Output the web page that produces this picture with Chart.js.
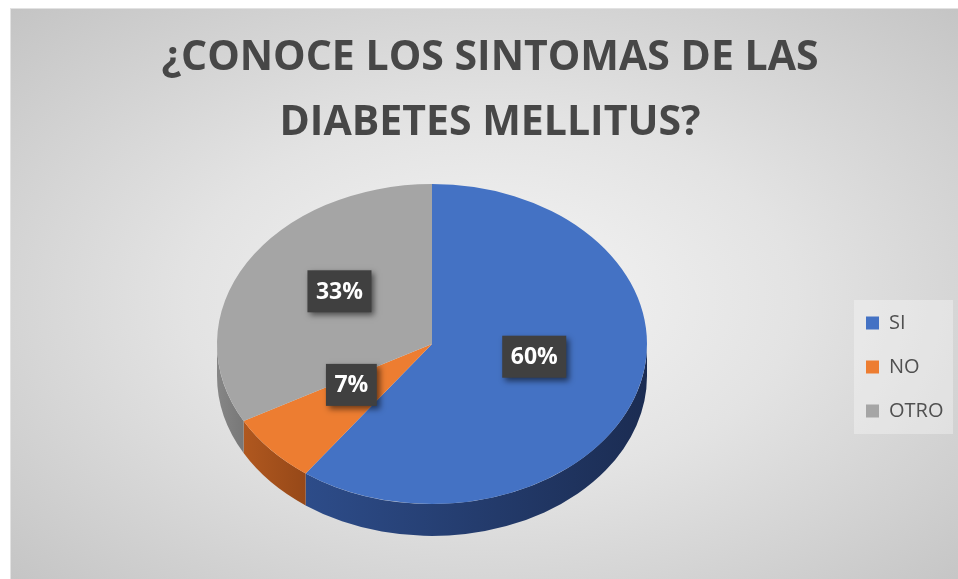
<!DOCTYPE html>
<html>
<head>
<meta charset="utf-8">
<script src="https://cdn.jsdelivr.net/npm/chart.js@4.4.0/dist/chart.umd.min.js"></script>
<style>
  html, body { margin: 0; padding: 0; background: #fff; overflow: hidden; }
  #frame {
    position: absolute; left: 10px; top: 8px; width: 960px; height: 580px;
    border-top: 1px solid #e2e2e2; border-left: 1px solid #e2e2e2;
    background: radial-gradient(ellipse at 50% 50%, #f5f5f5 0%, #e3e3e3 45%, #c4c4c4 100%);
  }
  #wrap { position: absolute; left: 0; top: 0; width: 958px; height: 579px; }
</style>
</head>
<body>
<div id="frame"></div>
<div id="wrap"><canvas id="pieChart"></canvas></div>
<script>
const categories = ['SI', 'NO', 'OTRO'];
const percentValues = [60, 7, 33];
const titleLines = ['¿CONOCE LOS SINTOMAS DE LAS', 'DIABETES MELLITUS?'];

const sliceColors = ['#4472C4', '#ED7D31', '#A5A5A5'];
const sideColors = [['#2d4c89', '#1b2c52'], ['#b0581f', '#964818'], ['#868686', '#777777']];

const FONT = '"Open Sans", "Noto Sans", sans-serif';
const PIE_CY = 344;   // centre of the top face on screen
const TILT = 0.744;   // vertical squash of the pie
const DEPTH = 32;     // thickness of the pie
const LEGEND_W = 116;

// draws the pie side, then squashes the top face
const pie3d = {
  id: 'pie3d',
  beforeLayout(chart) {
    const lg = chart.legend;
    if (lg && !lg._wfix) {
      const fit = lg.fit;
      lg.fit = function () { fit.call(this); this.width = LEGEND_W; };
      lg._wfix = true;
    }
  },
  beforeDraw(chart) {
    // lighter panel behind the legend
    const lg = chart.legend;
    const hb = lg.legendHitBoxes;
    if (!hb || !hb.length) return;
    const ctx = chart.ctx;
    const top = hb[0].top - 13;
    const bottom = hb[hb.length - 1].top + hb[hb.length - 1].height + 13;
    ctx.save();
    ctx.fillStyle = 'rgba(255,255,255,0.32)';
    ctx.fillRect(lg.left + 12, top, lg.right - 5 - (lg.left + 12), bottom - top);
    ctx.restore();
  },
  beforeDatasetsDraw(chart) {
    const ctx = chart.ctx;
    const arcs = chart.getDatasetMeta(0).data;
    if (!arcs.length) return;
    const cx = arcs[0].x, cy = arcs[0].y, r = arcs[0].outerRadius, ry = r * TILT;
    arcs.forEach((arc, i) => {
      const a = Math.max(arc.startAngle, 0);
      const b = Math.min(arc.endAngle, Math.PI);
      if (a >= b) return;
      const x0 = cx + r * Math.cos(b), x1 = cx + r * Math.cos(a);
      const g = ctx.createLinearGradient(x0, 0, x1 + 1, 0);
      g.addColorStop(0, sideColors[i][0]);
      g.addColorStop(1, sideColors[i][1]);
      ctx.beginPath();
      ctx.ellipse(cx, PIE_CY, r, ry, 0, a, b);
      ctx.ellipse(cx, PIE_CY + DEPTH, r, ry, 0, b, a, true);
      ctx.closePath();
      ctx.fillStyle = g;
      ctx.fill();
    });
    ctx.save();
    ctx.translate(0, PIE_CY);
    ctx.scale(1, TILT);
    ctx.translate(0, -cy);
  },
  afterDatasetsDraw(chart) {
    chart.ctx.restore();
  }
};

// dark percentage boxes
const sliceLabels = {
  id: 'sliceLabels',
  afterDatasetsDraw(chart) {
    const ctx = chart.ctx;
    const arcs = chart.getDatasetMeta(0).data;
    const total = percentValues.reduce((s, v) => s + v, 0);
    arcs.forEach((arc, i) => {
      const p = arc.tooltipPosition();
      const x = p.x;
      const y = PIE_CY + (p.y - arc.y) * TILT - 12;
      const text = Math.round(percentValues[i] / total * 100) + '%';
      ctx.save();
      ctx.font = 'bold 23px ' + FONT;
      const w = ctx.measureText(text).width + 17, h = 42;
      ctx.shadowColor = 'rgba(0,0,0,0.55)';
      ctx.shadowBlur = 6;
      ctx.shadowOffsetX = 3;
      ctx.shadowOffsetY = 3;
      ctx.fillStyle = '#404040';
      ctx.fillRect(x - w / 2, y - h / 2, w, h);
      ctx.shadowColor = 'transparent';
      ctx.fillStyle = '#ffffff';
      ctx.textAlign = 'center';
      ctx.textBaseline = 'middle';
      ctx.fillText(text, x, y + 1);
      ctx.restore();
    });
  }
};

const ctx1 = document.getElementById('pieChart').getContext('2d');
const pieChart = new Chart(ctx1, {
  type: 'pie',
  data: {
    labels: categories,
    datasets: [{
      data: percentValues,
      backgroundColor: sliceColors,
      borderWidth: 0,
      radius: 215,
      clip: false
    }]
  },
  options: {
    responsive: true,
    maintainAspectRatio: false,
    animation: false,
    layout: { padding: { left: 22, right: 0, top: 0, bottom: 1 } },
    plugins: {
      title: {
        display: true,
        text: titleLines,
        color: '#474747',
        font: { family: FONT, size: 41, weight: 'bold', lineHeight: 65 / 41 },
        padding: { top: 26, bottom: 0 }
      },
      legend: {
        position: 'right',
        fullSize: false,
        labels: {
          boxWidth: 13,
          boxHeight: 13,
          padding: 24,
          color: '#505050',
          font: { family: FONT, size: 20 }
        }
      },
      tooltip: { enabled: false }
    }
  },
  plugins: [pie3d, sliceLabels]
});
</script>
</body>
</html>
